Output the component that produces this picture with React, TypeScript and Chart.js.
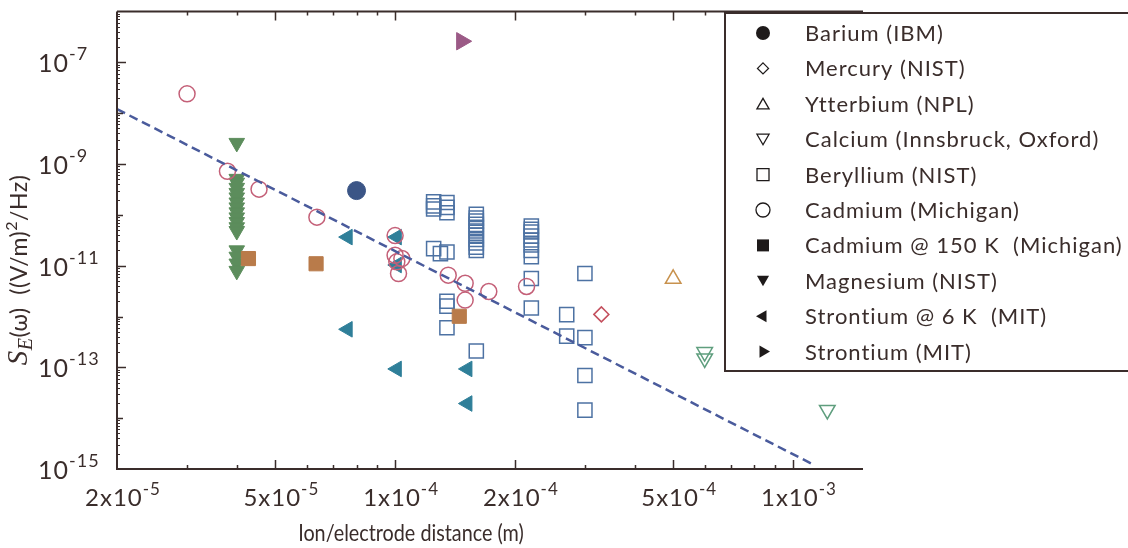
import React, { useEffect, useRef } from "react";
import { Chart, registerables } from "chart.js";

Chart.register(...registerables);

// ---------- data ----------
const bariumIBM = [{ x: 8.0e-5, y: 3.0e-10 }];
const mercuryNIST = [{ x: 3.3e-4, y: 1.1e-12 }];
const ytterbiumNPL = [{ x: 5.0e-4, y: 5.5e-12 }];
const calciumInnsbruckOxford = [
  { x: 6.0e-4, y: 2.0e-13 },
  { x: 6.0e-4, y: 1.5e-13 },
  { x: 1.22e-3, y: 1.45e-14 },
];
const berylliumNIST = [
  { x: 1.25e-4, y: 1.8e-10 }, { x: 1.25e-4, y: 1.5e-10 }, { x: 1.25e-4, y: 1.3e-10 },
  { x: 1.35e-4, y: 1.75e-10 }, { x: 1.35e-4, y: 1.4e-10 }, { x: 1.35e-4, y: 1.1e-10 },
  { x: 1.6e-4, y: 1.02e-10 }, { x: 1.6e-4, y: 8.6e-11 }, { x: 1.6e-4, y: 7.5e-11 },
  { x: 1.6e-4, y: 6.5e-11 }, { x: 1.6e-4, y: 5.7e-11 }, { x: 1.6e-4, y: 4.8e-11 },
  { x: 1.6e-4, y: 4.0e-11 }, { x: 1.6e-4, y: 3.3e-11 }, { x: 1.6e-4, y: 2.8e-11 },
  { x: 1.6e-4, y: 2.3e-11 }, { x: 1.6e-4, y: 2.0e-11 },
  { x: 2.2e-4, y: 6.0e-11 }, { x: 2.2e-4, y: 5.2e-11 }, { x: 2.2e-4, y: 4.6e-11 },
  { x: 2.2e-4, y: 3.8e-11 }, { x: 2.2e-4, y: 3.2e-11 }, { x: 2.2e-4, y: 2.55e-11 },
  { x: 2.2e-4, y: 2.0e-11 }, { x: 2.2e-4, y: 1.5e-11 },
  { x: 2.2e-4, y: 5.6e-12 }, { x: 2.2e-4, y: 1.47e-12 },
  { x: 1.25e-4, y: 2.16e-11 }, { x: 1.3e-4, y: 1.73e-11 }, { x: 1.35e-4, y: 1.86e-11 },
  { x: 1.35e-4, y: 2.0e-12 }, { x: 1.35e-4, y: 1.6e-12 }, { x: 1.35e-4, y: 6.0e-13 },
  { x: 1.6e-4, y: 2.1e-13 },
  { x: 2.7e-4, y: 1.09e-12 }, { x: 2.7e-4, y: 4.1e-13 },
  { x: 3.0e-4, y: 7.0e-12 }, { x: 3.0e-4, y: 3.85e-13 },
  { x: 3.0e-4, y: 6.9e-14 }, { x: 3.0e-4, y: 1.44e-14 },
];
const cadmiumMichigan = [
  { x: 3.0e-5, y: 2.4e-8 },
  { x: 3.79e-5, y: 7.2e-10 },
  { x: 4.55e-5, y: 3.2e-10 },
  { x: 6.36e-5, y: 9.0e-11 },
  { x: 1.0e-4, y: 3.9e-11 },
  { x: 1.0e-4, y: 1.6e-11 },
  { x: 1.04e-4, y: 1.38e-11 },
  { x: 1.01e-4, y: 1.19e-11 },
  { x: 1.02e-4, y: 7.0e-12 },
  { x: 1.36e-4, y: 6.5e-12 },
  { x: 1.5e-4, y: 4.5e-12 },
  { x: 1.72e-4, y: 3.1e-12 },
  { x: 1.5e-4, y: 2.1e-12 },
  { x: 2.14e-4, y: 3.9e-12 },
];
const cadmium150K = [
  { x: 4.28e-5, y: 1.38e-11 },
  { x: 6.33e-5, y: 1.09e-11 },
  { x: 1.45e-4, y: 1.01e-12 },
];
const magnesiumNIST = [
  { x: 4.0e-5, y: 2.6e-9 },
  { x: 4.0e-5, y: 5.1e-10 }, { x: 4.0e-5, y: 4.3e-10 }, { x: 4.0e-5, y: 3.4e-10 },
  { x: 4.0e-5, y: 2.7e-10 }, { x: 4.0e-5, y: 2.2e-10 }, { x: 4.0e-5, y: 1.75e-10 },
  { x: 4.0e-5, y: 1.4e-10 }, { x: 4.0e-5, y: 1.12e-10 }, { x: 4.0e-5, y: 8.9e-11 },
  { x: 4.0e-5, y: 7.2e-11 }, { x: 4.0e-5, y: 5.7e-11 }, { x: 4.0e-5, y: 4.8e-11 },
  { x: 4.0e-5, y: 2.0e-11 }, { x: 4.0e-5, y: 1.5e-11 }, { x: 4.0e-5, y: 1.1e-11 },
  { x: 4.0e-5, y: 7.9e-12 },
];
const strontium6K = [
  { x: 7.6e-5, y: 3.65e-11 },
  { x: 1.01e-4, y: 3.65e-11 },
  { x: 1.01e-4, y: 1.03e-11 },
  { x: 7.6e-5, y: 5.6e-13 },
  { x: 1.01e-4, y: 9.3e-14 },
  { x: 1.52e-4, y: 9.3e-14 },
  { x: 1.52e-4, y: 1.94e-14 },
];
const strontiumMIT = [{ x: 1.47e-4, y: 2.6e-7 }];
const scalingLine = [
  { x: 2.0e-5, y: 1.2e-8 },
  { x: 1.13e-3, y: 1.2e-15 },
];

const seriesNames = [
  "Barium (IBM)",
  "Mercury (NIST)",
  "Ytterbium (NPL)",
  "Calcium (Innsbruck, Oxford)",
  "Beryllium (NIST)",
  "Cadmium (Michigan)",
  "Cadmium @ 150 K  (Michigan)",
  "Magnesium (NIST)",
  "Strontium @ 6 K  (MIT)",
  "Strontium (MIT)",
];

const xTickValues = [2e-5, 5e-5, 1e-4, 2e-4, 5e-4, 1e-3];
const xTickMantissas = ["2x10", "5x10", "1x10", "2x10", "5x10", "1x10"];
const xTickExponents = ["-5", "-5", "-4", "-4", "-4", "-3"];
const yTickValues = [1e-7, 1e-9, 1e-11, 1e-13, 1e-15];
const yTickExponents = ["-7", "-9", "-11", "-13", "-15"];

const xTitle = "Ion/electrode distance (m)";

// ---------- styles ----------
const INK = "#3a2d2b";
const FONT = "Lato";

const C_BA = "#3b5586";
const C_HG = "#c4505e";
const C_YB = "#c8924e";
const C_CA = "#5f9e7e";
const C_BE = "#4d72a3";
const C_CD = "#c46078";
const C_CD150 = "#b97b4a";
const C_MG = "#5c8d5c";
const C_SR6 = "#2f7f99";
const C_SR = "#9b5a86";
const C_LINE = "#4a5b9c";

type Glyph = "circle" | "diamond" | "up" | "down" | "left" | "right" | "square";
const legendGlyphs: Glyph[] = ["circle", "diamond", "up", "down", "square", "circle", "square", "down", "left", "right"];
const legendFilled = [true, false, false, false, false, false, true, true, true, true];

function setSpacing(ctx: CanvasRenderingContext2D, s: string) {
  (ctx as any).letterSpacing = s;
}

function drawGlyph(ctx: CanvasRenderingContext2D, g: Glyph, x: number, y: number, r: number, filled: boolean) {
  ctx.beginPath();
  if (g === "circle") {
    ctx.arc(x, y, r, 0, Math.PI * 2);
  } else if (g === "square") {
    ctx.rect(x - r, y - r, 2 * r, 2 * r);
  } else if (g === "diamond") {
    ctx.moveTo(x, y - r); ctx.lineTo(x + r, y); ctx.lineTo(x, y + r); ctx.lineTo(x - r, y); ctx.closePath();
  } else {
    const rot = g === "up" ? 0 : g === "right" ? 90 : g === "down" ? 180 : 270;
    let a = (rot * Math.PI) / 180;
    for (let i = 0; i < 3; i++) {
      const px = x + Math.sin(a) * r;
      const py = y - Math.cos(a) * r;
      if (i === 0) ctx.moveTo(px, py); else ctx.lineTo(px, py);
      a += (2 * Math.PI) / 3;
    }
    ctx.closePath();
  }
  if (filled) ctx.fill(); else ctx.stroke();
}

function drawSup(ctx: CanvasRenderingContext2D, base: string, exp: string, x: number, baseline: number,
  baseFont: string, expFont: string, align: "left" | "center", rise: number) {
  ctx.font = baseFont;
  const wb = ctx.measureText(base).width;
  ctx.font = expFont;
  const we = ctx.measureText(exp).width;
  const start = align === "left" ? x : x - (wb + we) / 2;
  ctx.textAlign = "left";
  ctx.textBaseline = "alphabetic";
  ctx.font = baseFont;
  ctx.fillText(base, start, baseline);
  ctx.font = expFont;
  ctx.fillText(exp, start + wb, baseline - rise);
}

const decorPlugin = {
  id: "decor",
  afterDraw(chart: any) {
    const { ctx, chartArea: a, scales } = chart;
    const xs = scales.x;
    const ys = scales.y;
    ctx.save();
    ctx.strokeStyle = INK;
    ctx.fillStyle = INK;
    ctx.lineWidth = 2;
    ctx.beginPath();
    ctx.moveTo(a.left, a.top);
    ctx.lineTo(a.left, a.bottom);
    ctx.lineTo(a.right, a.bottom);
    ctx.moveTo(a.left, a.top);
    ctx.lineTo(a.right, a.top);
    ctx.stroke();

    // x ticks (inward, bottom & top)
    ctx.lineWidth = 1.5;
    for (let d = -5; d <= -3; d++) {
      for (let m = 1; m <= 9; m++) {
        const v = m * Math.pow(10, d);
        if (v <= xs.min * 1.0001 || v > xs.max) continue;
        const px = Math.round(xs.getPixelForValue(v)) + 0.5;
        const len = m === 1 || m === 2 || m === 5 ? 9 : 4;
        ctx.beginPath();
        ctx.moveTo(px, a.bottom); ctx.lineTo(px, a.bottom - len);
        ctx.moveTo(px, a.top); ctx.lineTo(px, a.top + len);
        ctx.stroke();
      }
    }
    // y ticks (inward, left)
    for (let d = -15; d <= -7; d++) {
      for (let m = 1; m <= 9; m++) {
        const v = m * Math.pow(10, d);
        if (v <= ys.min * 1.0001 || v >= ys.max) continue;
        const py = Math.round(ys.getPixelForValue(v)) + 0.5;
        const len = m === 1 ? (Math.abs(d) % 2 === 1 ? 9 : 6) : 3;
        ctx.lineWidth = m === 1 ? 1.5 : 1;
        ctx.beginPath();
        ctx.moveTo(a.left, py); ctx.lineTo(a.left + len, py);
        ctx.stroke();
      }
    }

    // y tick labels
    setSpacing(ctx, "1px");
    yTickValues.forEach((v, i) => {
      const py = ys.getPixelForValue(v);
      drawSup(ctx, "10", yTickExponents[i], 38, py + 10, `25px ${FONT}`, `18px ${FONT}`, "left", 12);
    });
    // x tick labels
    xTickValues.forEach((v, i) => {
      const px = xs.getPixelForValue(v);
      drawSup(ctx, xTickMantissas[i], xTickExponents[i], px + 6, 506, `24px ${FONT}`, `17px ${FONT}`, "center", 11);
    });

    // x title (slightly condensed)
    setSpacing(ctx, "0px");
    ctx.save();
    ctx.translate(411, 541);
    ctx.scale(0.86, 1);
    ctx.font = `23px ${FONT}`;
    ctx.textAlign = "center";
    ctx.textBaseline = "alphabetic";
    ctx.fillText(xTitle, 0, 0);
    ctx.restore();

    // y title (rotated)
    ctx.save();
    ctx.translate(27, 270);
    ctx.rotate(-Math.PI / 2);
    setSpacing(ctx, "0.5px");
    const pieces = [
      { t: "S", f: "italic 29px 'Liberation Serif'", dy: 0 },
      { t: "E", f: "italic 20px 'Liberation Serif'", dy: 5 },
      { t: "(ω)", f: `23px ${FONT}`, dy: 0 },
      { t: "  ((V/m)", f: `23px ${FONT}`, dy: 0 },
      { t: "2", f: `16px ${FONT}`, dy: -10 },
      { t: "/Hz)", f: `23px ${FONT}`, dy: 0 },
    ];
    let total = 0;
    pieces.forEach((p) => { ctx.font = p.f; total += ctx.measureText(p.t).width; });
    let cx = -total / 2;
    ctx.textAlign = "left";
    pieces.forEach((p) => {
      ctx.font = p.f;
      ctx.fillText(p.t, cx, p.dy);
      cx += ctx.measureText(p.t).width;
    });
    ctx.restore();

    // legend
    const lx = 725, ly = 13, lw = 420, lh = 358;
    ctx.fillStyle = "#ffffff";
    ctx.fillRect(lx, ly, lw, lh);
    ctx.strokeStyle = INK;
    ctx.lineWidth = 2;
    ctx.strokeRect(lx, ly, lw, lh);
    ctx.fillStyle = "#1e1a1a";
    ctx.strokeStyle = "#1e1a1a";
    ctx.lineWidth = 1.3;
    setSpacing(ctx, "1px");
    seriesNames.forEach((name, i) => {
      const cy = 33 + i * 35.4;
      const g = legendGlyphs[i];
      const r = g === "circle" ? 7 : g === "diamond" ? 5.5 : g === "square" ? 6 : 7;
      drawGlyph(ctx, g, 763, cy + (g === "up" ? 1.5 : g === "down" ? -1.5 : 0), r, legendFilled[i]);
      ctx.fillStyle = INK;
      ctx.font = `22px ${FONT}`;
      ctx.textAlign = "left";
      ctx.textBaseline = "middle";
      ctx.fillText(name, 805, cy + 1);
      ctx.fillStyle = "#1e1a1a";
    });
    setSpacing(ctx, "0px");
    ctx.restore();
  },
};

export default function App() {
  const ref = useRef<HTMLCanvasElement | null>(null);
  useEffect(() => {
    document.body.style.margin = "0";
    document.body.style.background = "#ffffff";
    if (!ref.current) return;
    const open = "rgba(0,0,0,0)";
    const chart = new Chart(ref.current, {
      type: "scatter",
      data: {
        datasets: [
          {
            label: "fit", data: scalingLine, showLine: true, borderColor: C_LINE, borderWidth: 2.5,
            borderDash: [9, 5], pointRadius: 0, backgroundColor: C_LINE,
          },
          { label: seriesNames[9], data: strontiumMIT, pointStyle: "triangle", rotation: 90, pointRadius: 10, backgroundColor: C_SR, borderColor: C_SR, borderWidth: 1 },
          { label: seriesNames[0], data: bariumIBM, pointStyle: "circle", pointRadius: 9, backgroundColor: C_BA, borderColor: C_BA, borderWidth: 1 },
          { label: seriesNames[1], data: mercuryNIST, pointStyle: "rectRot", pointRadius: 7.5, backgroundColor: open, borderColor: C_HG, borderWidth: 1.5 },
          { label: seriesNames[2], data: ytterbiumNPL, pointStyle: "triangle", pointRadius: 9, backgroundColor: open, borderColor: C_YB, borderWidth: 1.5 },
          { label: seriesNames[3], data: calciumInnsbruckOxford, pointStyle: "triangle", rotation: 180, pointRadius: 9, backgroundColor: open, borderColor: C_CA, borderWidth: 1.5 },
          { label: seriesNames[5], data: cadmiumMichigan, pointStyle: "circle", pointRadius: 8, backgroundColor: open, borderColor: C_CD, borderWidth: 1.5 },
          { label: seriesNames[6], data: cadmium150K, pointStyle: "rect", pointRadius: 10, backgroundColor: C_CD150, borderColor: C_CD150, borderWidth: 1 },
          { label: seriesNames[8], data: strontium6K, pointStyle: "triangle", rotation: 270, pointRadius: 9, backgroundColor: C_SR6, borderColor: C_SR6, borderWidth: 1 },
          { label: seriesNames[7], data: magnesiumNIST, pointStyle: "triangle", rotation: 180, pointRadius: 9, backgroundColor: C_MG, borderColor: C_MG, borderWidth: 1 },
          { label: seriesNames[4], data: berylliumNIST, pointStyle: "rect", pointRadius: 10, backgroundColor: open, borderColor: C_BE, borderWidth: 1.5 },
        ] as any,
      },
      options: {
        responsive: false,
        animation: false,
        devicePixelRatio: 1,
        layout: { padding: { left: 117, right: 265, top: 7, bottom: 79 } },
        plugins: { legend: { display: false }, tooltip: { enabled: false } },
        scales: {
          x: { type: "logarithmic", min: 2e-5, max: 1.5e-3, display: false },
          y: { type: "logarithmic", min: 1e-15, max: 1e-6, display: false },
        },
      },
      plugins: [decorPlugin],
    });
    return () => chart.destroy();
  }, []);
  return (
    <div style={{ width: 1128, height: 548, background: "#fff" }}>
      <canvas ref={ref} width={1128} height={548} style={{ display: "block" }} />
    </div>
  );
}
